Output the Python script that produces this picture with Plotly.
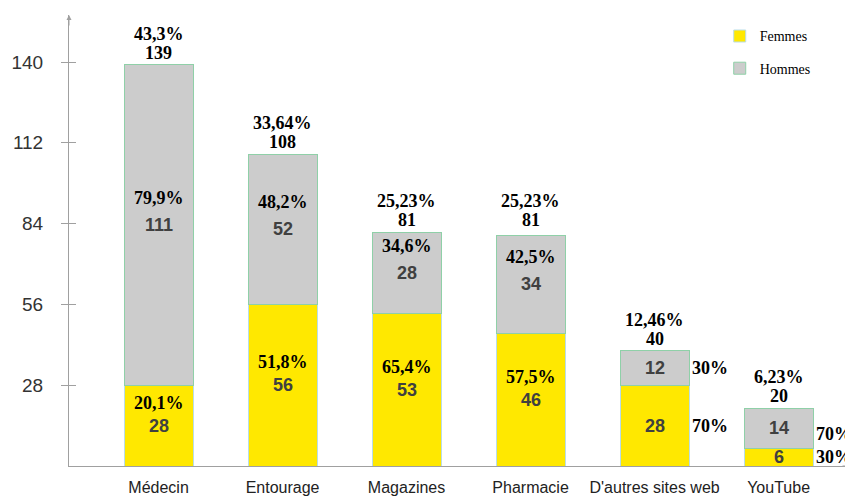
import plotly.graph_objects as go

categories = ["Médecin", "Entourage", "Magazines", "Pharmacie", "D'autres sites web", "YouTube"]
femmes = [28, 56, 53, 46, 28, 6]
hommes = [111, 52, 28, 34, 12, 14]
totals = [139, 108, 81, 81, 40, 20]
total_pct = ["43,3%", "33,64%", "25,23%", "25,23%", "12,46%", "6,23%"]
femmes_pct = ["20,1%", "51,8%", "65,4%", "57,5%", "70%", "30%"]
hommes_pct = ["79,9%", "48,2%", "34,6%", "42,5%", "30%", "70%"]
y_ticks = [28, 56, 84, 112, 140]

YELLOW = "#FFE800"
GRAY = "#CCCCCC"
AXIS = "#A0A0A0"
SERIF = "Liberation Serif"
SANS = "Liberation Sans"

fig = go.Figure()
fig.add_trace(go.Bar(x=categories, y=femmes, name="Femmes", legendgroup="f",
                     marker=dict(color=YELLOW, line=dict(color="#B9DDE8", width=1)),
                     width=0.556, hoverinfo="skip"))
fig.add_trace(go.Bar(x=categories, y=hommes, name="Hommes", legendgroup="h",
                     marker=dict(color=GRAY, line=dict(color="#8FD0A8", width=1)),
                     width=0.556, hoverinfo="skip"))

ann = []
small = [c for c, t in zip(categories, totals) if t < 50]
for i, c in enumerate(categories):
    f, h, t = femmes[i], hommes[i], totals[i]
    ann.append(dict(x=c, y=t, text=f"<b>{t}</b>", showarrow=False, yshift=12,
                    font=dict(family=SERIF, size=18, color="black")))
    ann.append(dict(x=c, y=t, text=f"<b>{total_pct[i]}</b>", showarrow=False, yshift=31,
                    font=dict(family=SERIF, size=18, color="black")))
    ann.append(dict(x=c, y=f / 2, text=f"<b>{f}</b>", showarrow=False,
                    font=dict(family=SANS, size=18, color="#404040")))
    ann.append(dict(x=c, y=f + h / 2, text=f"<b>{h}</b>", showarrow=False,
                    font=dict(family=SANS, size=18, color="#404040")))
    if c in small:
        ann.append(dict(x=c, y=f / 2, text=f"<b>{femmes_pct[i]}</b>", showarrow=False,
                        xshift=55, font=dict(family=SERIF, size=18, color="black")))
        ann.append(dict(x=c, y=f + h / 2, text=f"<b>{hommes_pct[i]}</b>", showarrow=False,
                        xshift=55, yshift=(0 if t >= 30 else -6),
                        font=dict(family=SERIF, size=18, color="black")))
    else:
        ann.append(dict(x=c, y=f / 2, text=f"<b>{femmes_pct[i]}</b>", showarrow=False,
                        yshift=23, font=dict(family=SERIF, size=18, color="black")))
        ann.append(dict(x=c, y=f + h / 2, text=f"<b>{hommes_pct[i]}</b>", showarrow=False,
                        yshift=27, font=dict(family=SERIF, size=18, color="black")))

ann.append(dict(xref="paper", yref="paper", x=0, y=1, ax=0, ay=12, text="", showarrow=True,
                arrowhead=2, arrowsize=1, arrowwidth=1, arrowcolor=AXIS))
ann.append(dict(xref="paper", yref="paper", x=1, y=0, ax=-12, ay=0, text="", showarrow=True,
                arrowhead=2, arrowsize=1, arrowwidth=1, arrowcolor=AXIS))

fig.update_layout(
    width=845, height=488,
    margin=dict(l=61, r=0, t=7, b=30, autoexpand=False),
    barmode="stack",
    plot_bgcolor="white", paper_bgcolor="white",
    showlegend=True,
    legend=dict(x=0.83, y=0.988, xanchor="left", yanchor="top", traceorder="grouped",
                tracegroupgap=11, bgcolor="rgba(0,0,0,0)",
                font=dict(family=SERIF, size=14, color="black")),
    annotations=ann,
    xaxis=dict(range=[-0.722, 5.6], showline=True, linecolor=AXIS, linewidth=1,
               ticks="", showgrid=False, zeroline=False, ticklabelstandoff=7,
               tickfont=dict(family=SANS, size=16, color="#222")),
    yaxis=dict(range=[0, 156.3], showline=True, linecolor=AXIS, linewidth=1,
               tickvals=y_ticks, ticks="outside", ticklen=7, tickcolor=AXIS,
               showgrid=False, zeroline=False, ticklabelstandoff=14,
               tickfont=dict(family=SANS, size=19, color="#333")),
    yaxis2=dict(range=[0, 156.3], overlaying="y", side="left", tickvals=y_ticks,
                ticks="inside", ticklen=7, tickcolor=AXIS, showticklabels=False,
                showgrid=False, zeroline=False, showline=False),
)
fig.add_trace(go.Scatter(x=[categories[0]], y=[0], yaxis="y2", mode="markers",
                         marker=dict(opacity=0), showlegend=False, hoverinfo="skip"))

fig.write_html("out.html")
